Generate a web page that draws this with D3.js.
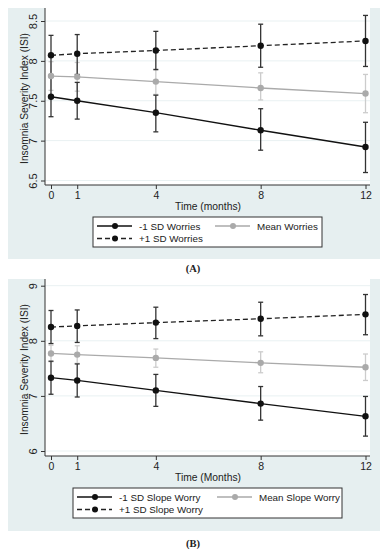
<!DOCTYPE html>
<html>
<head>
<meta charset="utf-8">
<script src="https://cdn.jsdelivr.net/npm/d3@7"></script>
<style>
  html, body { margin: 0; padding: 0; background: #fff; }
  svg { display: block; }
</style>
</head>
<body>
<svg id="chart" width="387" height="550"></svg>
<script>
// ---------- data ----------
const months = [0, 1, 4, 8, 12];
const xTicks = [0, 1, 4, 8, 12];

// Panel A
const aTicksY = [6.5, 7, 7.5, 8, 8.5];
const aTickLabels = ["6.5", "7", "7.5", "8", "8.5"];
const aMinus   = [7.55, 7.50, 7.35, 7.13, 6.92];
const aMinusLo = [7.30, 7.27, 7.11, 6.88, 6.60];
const aMinusHi = [7.80, 7.73, 7.57, 7.40, 7.23];
const aMean    = [7.81, 7.80, 7.74, 7.66, 7.59];
const aMeanLo  = [7.63, 7.62, 7.58, 7.51, 7.35];
const aMeanHi  = [7.99, 7.98, 7.90, 7.85, 7.83];
const aPlus    = [8.07, 8.09, 8.13, 8.19, 8.25];
const aPlusLo  = [7.82, 7.83, 7.89, 7.92, 7.93];
const aPlusHi  = [8.32, 8.33, 8.37, 8.46, 8.57];
const aLegend  = ["-1 SD Worries", "Mean Worries", "+1 SD Worries"];
const aXTitle  = "Time (months)";

// Panel B
const bTicksY = [6, 7, 8, 9];
const bTickLabels = ["6", "7", "8", "9"];
const bMinus   = [7.33, 7.28, 7.10, 6.86, 6.63];
const bMinusLo = [7.03, 6.98, 6.81, 6.56, 6.27];
const bMinusHi = [7.63, 7.58, 7.39, 7.17, 6.99];
const bMean    = [7.77, 7.75, 7.69, 7.60, 7.52];
const bMeanLo  = [7.62, 7.59, 7.52, 7.42, 7.28];
const bMeanHi  = [7.92, 7.91, 7.85, 7.80, 7.76];
const bPlus    = [8.25, 8.27, 8.33, 8.40, 8.48];
const bPlusLo  = [7.95, 7.97, 8.04, 8.09, 8.11];
const bPlusHi  = [8.55, 8.56, 8.61, 8.70, 8.84];
const bLegend  = ["-1 SD Slope Worry", "Mean Slope Worry", "+1 SD Slope Worry"];
const bXTitle  = "Time (Months)";

const yTitle = "Insomnia Severity Index (ISI)";

// ---------- drawing ----------
const svg = d3.select("#chart");
const FONT = "'Liberation Sans', Arial, sans-serif";
const BG = "#e6eff0";
const GRID = "#e9f1f2";

function drawPanel(cfg) {
  const g = svg.append("g");
  g.append("rect").attr("x", 8).attr("y", cfg.top).attr("width", 372).attr("height", cfg.bgH).attr("fill", BG);
  g.append("rect").attr("x", 45).attr("y", cfg.top).attr("width", 325).attr("height", cfg.axisY - cfg.top).attr("fill", "#fff");

  const x = d3.scaleLinear().domain([0, 12]).range([51, 365.5]);
  const y = d3.scaleLinear().domain(cfg.yDomain).range(cfg.yRange);

  g.append("g").selectAll("line").data(cfg.ticksY).join("line")
    .attr("x1", 45).attr("x2", 370)
    .attr("y1", d => y(d)).attr("y2", d => y(d))
    .attr("stroke", GRID).attr("stroke-width", 1);

  const yAxis = d3.axisLeft(y).tickValues(cfg.ticksY).tickFormat((d, i) => cfg.tickLabels[i]).tickSize(4).tickPadding(4);
  const ya = g.append("g").attr("transform", "translate(45,0)").call(yAxis);
  ya.select(".domain").attr("d", `M0,${cfg.top}V${cfg.axisY}`).attr("stroke", "#333");
  ya.selectAll(".tick line").attr("stroke", "#333");
  ya.selectAll(".tick text")
    .attr("font-family", FONT).attr("font-size", 11).attr("fill", "#222")
    .attr("x", null).attr("dy", null)
    .attr("text-anchor", "middle")
    .attr("transform", "translate(-12,0) rotate(-90)")
    .attr("y", 0).attr("dominant-baseline", "central");

  const xAxis = d3.axisBottom(x).tickValues(xTicks).tickFormat(d3.format("d")).tickSize(4).tickPadding(3);
  const xa = g.append("g").attr("transform", `translate(0,${cfg.axisY})`).call(xAxis);
  xa.select(".domain").attr("d", `M45,0H370`).attr("stroke", "#333");
  xa.selectAll(".tick line").attr("stroke", "#333");
  xa.selectAll(".tick text").attr("font-family", FONT).attr("font-size", 10.5).attr("fill", "#222");

  g.append("text").attr("x", 208).attr("y", cfg.axisY + 25)
    .attr("text-anchor", "middle").attr("font-family", FONT).attr("font-size", 10.3).attr("fill", "#222")
    .text(cfg.xTitle);
  g.append("text")
    .attr("transform", `translate(24,${(cfg.top + cfg.axisY) / 2 + 2}) rotate(-90)`)
    .attr("text-anchor", "middle").attr("dominant-baseline", "central")
    .attr("font-family", FONT).attr("font-size", 10.2).attr("fill", "#222")
    .text(yTitle);

  const series = [
    { v: cfg.mean, lo: cfg.meanLo, hi: cfg.meanHi, color: "#aaaaaa", ebar: "#cccccc", dash: null },
    { v: cfg.minus, lo: cfg.minusLo, hi: cfg.minusHi, color: "#111", ebar: "#333", dash: null },
    { v: cfg.plus, lo: cfg.plusLo, hi: cfg.plusHi, color: "#111", ebar: "#333", dash: "5,3" }
  ];

  series.forEach(s => {
    const eg = g.append("g").attr("stroke", s.ebar).attr("stroke-width", 1.3).attr("fill", "none");
    const idx = d3.range(months.length);
    eg.selectAll("line.v").data(idx).join("line").attr("class", "v")
      .attr("x1", i => x(months[i])).attr("x2", i => x(months[i]))
      .attr("y1", i => y(s.lo[i])).attr("y2", i => y(s.hi[i]));
    eg.selectAll("line.t").data(idx).join("line").attr("class", "t")
      .attr("x1", i => x(months[i]) - 2.5).attr("x2", i => x(months[i]) + 2.5)
      .attr("y1", i => y(s.hi[i])).attr("y2", i => y(s.hi[i]));
    eg.selectAll("line.b").data(idx).join("line").attr("class", "b")
      .attr("x1", i => x(months[i]) - 2.5).attr("x2", i => x(months[i]) + 2.5)
      .attr("y1", i => y(s.lo[i])).attr("y2", i => y(s.lo[i]));
  });

  series.forEach(s => {
    const line = d3.line().x((d, i) => x(months[i])).y(d => y(d));
    g.append("path").datum(s.v).attr("d", line).attr("fill", "none")
      .attr("stroke", s.dash ? "#222" : s.color).attr("stroke-width", 1.3)
      .attr("stroke-dasharray", s.dash);
    g.append("g").selectAll("circle").data(s.v).join("circle")
      .attr("cx", (d, i) => x(months[i])).attr("cy", d => y(d)).attr("r", 3.2)
      .attr("fill", s.color);
  });

  const L = cfg.legend;
  const lg = g.append("g");
  lg.append("rect").attr("x", L.x).attr("y", L.y).attr("width", L.w).attr("height", 30)
    .attr("fill", "#fff").attr("stroke", "#333").attr("stroke-width", 1);
  const items = [
    { label: cfg.labels[0], x: L.x + 4, y: L.y + 9, color: "#111", dash: null },
    { label: cfg.labels[1], x: L.col2, y: L.y + 9, color: "#aaaaaa", dash: null },
    { label: cfg.labels[2], x: L.x + 4, y: L.y + 21.5, color: "#222", dash: "5,3" }
  ];
  items.forEach(it => {
    lg.append("line").attr("x1", it.x).attr("x2", it.x + 35).attr("y1", it.y).attr("y2", it.y)
      .attr("stroke", it.color).attr("stroke-width", 1.3).attr("stroke-dasharray", it.dash);
    lg.append("circle").attr("cx", it.x + 18).attr("cy", it.y).attr("r", 3)
      .attr("fill", it.dash ? "#111" : it.color);
    lg.append("text").attr("x", it.x + 42).attr("y", it.y).attr("dominant-baseline", "central")
      .attr("font-family", FONT).attr("font-size", 9.8).attr("fill", "#222").text(it.label);
  });

  g.append("text").attr("x", 193).attr("y", cfg.capY).attr("text-anchor", "middle")
    .attr("font-family", "'Liberation Serif', 'Times New Roman', serif").attr("font-weight", "bold")
    .attr("font-size", 10.5).attr("fill", "#222").text(cfg.caption);
}

drawPanel({
  top: 8, bgH: 251, axisY: 185,
  yDomain: [6.5, 8.5], yRange: [180.5, 21],
  ticksY: aTicksY, tickLabels: aTickLabels,
  minus: aMinus, minusLo: aMinusLo, minusHi: aMinusHi,
  mean: aMean, meanLo: aMeanLo, meanHi: aMeanHi,
  plus: aPlus, plusLo: aPlusLo, plusHi: aPlusHi,
  labels: aLegend, xTitle: aXTitle,
  legend: { x: 93, y: 217, w: 229, col2: 215 },
  capY: 272, caption: "(A)"
});

drawPanel({
  top: 279, bgH: 252, axisY: 456,
  yDomain: [6, 9], yRange: [451, 285.7],
  ticksY: bTicksY, tickLabels: bTickLabels,
  minus: bMinus, minusLo: bMinusLo, minusHi: bMinusHi,
  mean: bMean, meanLo: bMeanLo, meanHi: bMeanHi,
  plus: bPlus, plusLo: bPlusLo, plusHi: bPlusHi,
  labels: bLegend, xTitle: bXTitle,
  legend: { x: 73, y: 488, w: 269, col2: 217 },
  capY: 547, caption: "(B)"
});
</script>
</body>
</html>
